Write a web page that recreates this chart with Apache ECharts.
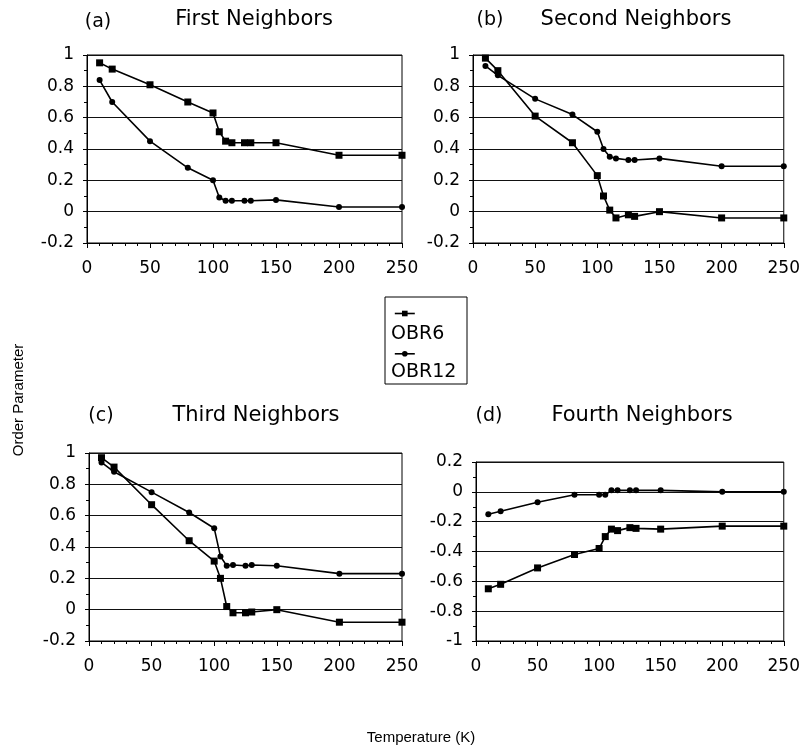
<!DOCTYPE html>
<html>
<head>
<meta charset="utf-8">
<script src="https://cdn.jsdelivr.net/npm/echarts@6/dist/echarts.min.js"></script>
<style>
  html, body { margin: 0; padding: 0; background: #fff; }
  #chart { width: 803px; height: 751px; }
</style>
</head>
<body>
<div id="chart"></div>
<script>
// temperatures (K) shared by every panel
const temps = [10, 20, 50, 80, 100, 105, 110, 115, 125, 130, 150, 200, 250];

// (a) first neighbors
const firstObr6 = [0.95, 0.91, 0.81, 0.70, 0.63, 0.51, 0.45, 0.44, 0.44, 0.44, 0.44, 0.36, 0.36];
const firstObr12 = [0.84, 0.70, 0.45, 0.28, 0.20, 0.09, 0.07, 0.07, 0.07, 0.07, 0.075, 0.03, 0.03];
// (b) second neighbors
const secondObr6 = [0.98, 0.90, 0.61, 0.44, 0.23, 0.10, 0.01, -0.04, -0.02, -0.03, 0.00, -0.04, -0.04];
const secondObr12 = [0.93, 0.87, 0.72, 0.62, 0.51, 0.40, 0.35, 0.34, 0.33, 0.33, 0.34, 0.29, 0.29];
// (c) third neighbors
const thirdObr6 = [0.97, 0.91, 0.67, 0.44, 0.31, 0.20, 0.02, -0.02, -0.02, -0.015, 0.00, -0.08, -0.08];
const thirdObr12 = [0.94, 0.88, 0.75, 0.62, 0.52, 0.34, 0.28, 0.285, 0.28, 0.285, 0.28, 0.23, 0.23];
// (d) fourth neighbors
const fourthObr6 = [-0.65, -0.62, -0.51, -0.42, -0.38, -0.30, -0.25, -0.26, -0.24, -0.245, -0.25, -0.23, -0.23];
const fourthObr12 = [-0.15, -0.13, -0.07, -0.02, -0.02, -0.02, 0.01, 0.01, 0.01, 0.01, 0.01, 0.00, 0.00];

const seriesNames = ["OBR6", "OBR12"];
const panelLetters = ["(a)", "(b)", "(c)", "(d)"];
const panelTitles = ["First Neighbors", "Second Neighbors", "Third Neighbors", "Fourth Neighbors"];
const yRanges = [[-0.2, 1], [-0.2, 1], [-0.2, 1], [-1, 0.2]];

const panelData = [
  [firstObr6, firstObr12],
  [secondObr6, secondObr12],
  [thirdObr6, thirdObr12],
  [fourthObr6, fourthObr12],
];

const grids = [
  { left: 87, top: 55, width: 315, height: 188 },
  { left: 473, top: 55, width: 315, height: 188 },
  { left: 89, top: 453, width: 313, height: 188 },
  { left: 476, top: 462, width: 312, height: 179 },
];

const FONT = "DejaVu Sans, Verdana, sans-serif";
const FONT2 = "Liberation Sans, Arial, sans-serif";

const chart = echarts.init(document.getElementById("chart"));

const xAxes = grids.map((g, i) => ({
  type: "value",
  gridIndex: i,
  min: 0,
  max: 250,
  interval: 50,
  axisLine: { show: true, onZero: false, lineStyle: { color: "#000", width: 1 } },
  axisTick: { show: true, length: 5, lineStyle: { color: "#000" } },
  minorTick: { show: true, splitNumber: 5, length: 3, lineStyle: { color: "#000" } },
  splitLine: { show: false },
  axisLabel: { color: "#000", fontSize: 17, fontFamily: FONT, margin: 17 },
}));

const yAxes = grids.map((g, i) => ({
  type: "value",
  gridIndex: i,
  min: yRanges[i][0],
  max: yRanges[i][1],
  interval: 0.2,
  axisLine: { show: true, onZero: false, lineStyle: { color: "#000", width: 1 } },
  axisTick: { show: true, length: 4, lineStyle: { color: "#000" } },
  minorTick: { show: true, splitNumber: 2, length: 3, lineStyle: { color: "#000" } },
  splitLine: { show: true, lineStyle: { color: "#111", width: 1 } },
  axisLabel: { color: "#000", fontSize: 17, fontFamily: FONT, margin: 13 },
}));

const series = [];
panelData.forEach((pair, i) => {
  pair.forEach((vals, k) => {
    series.push({
      name: seriesNames[k],
      type: "line",
      xAxisIndex: i,
      yAxisIndex: i,
      data: temps.map((t, j) => [t, vals[j]]),
      symbol: k === 0 ? "rect" : "circle",
      symbolSize: k === 0 ? 7 : 6,
      showAllSymbol: true,
      lineStyle: { color: "#000", width: 1.6 },
      itemStyle: { color: "#000" },
      emphasis: { disabled: true },
      animation: false,
    });
  });
});

// panel headings
const letterPos = [[98, 22], [490, 20], [101, 416], [489, 416]];
const namePos = [[254, 20], [636, 20], [256, 416], [642, 416]];
const headings = [];
grids.forEach((g, i) => {
  headings.push({
    type: "text",
    x: letterPos[i][0],
    y: letterPos[i][1],
    style: { text: panelLetters[i], fontSize: 19, fontFamily: FONT, fill: "#000", align: "center", verticalAlign: "middle" },
  });
  headings.push({
    type: "text",
    x: namePos[i][0],
    y: namePos[i][1],
    style: { text: panelTitles[i], fontSize: 21, fontFamily: FONT, fill: "#000", align: "center", verticalAlign: "middle" },
  });
});

const option = {
  backgroundColor: "#fff",
  animation: false,
  grid: grids.map((g) => ({ ...g, show: true, borderColor: "#000", borderWidth: 1, backgroundColor: "transparent" })),
  xAxis: xAxes,
  yAxis: yAxes,
  legend: {
    data: seriesNames,
    orient: "vertical",
    left: 389,
    top: 305,
    itemWidth: 20,
    itemHeight: 7,
    itemGap: 34,
    formatter: () => "",
    textStyle: { fontSize: 6 },
    selectedMode: false,
    itemStyle: { color: "#000" },
    lineStyle: { color: "#000", width: 1.6 },
  },
  graphic: headings.concat([
    {
      type: "rect",
      shape: { x: 385, y: 297, width: 82, height: 87 },
      style: { fill: "none", stroke: "#000", lineWidth: 1 },
      z: -1,
    },
    {
      type: "text",
      x: 391,
      y: 334,
      style: { text: "OBR6", fontSize: 19, fontFamily: FONT, fill: "#000", verticalAlign: "middle" },
    },
    {
      type: "text",
      x: 391,
      y: 372,
      style: { text: "OBR12", fontSize: 19, fontFamily: FONT, fill: "#000", verticalAlign: "middle" },
    },
    {
      type: "text",
      x: 19,
      y: 400,
      rotation: Math.PI / 2,
      style: { text: "Order Parameter", fontSize: 15, fontFamily: FONT2, fill: "#000", align: "center", verticalAlign: "middle" },
    },
    {
      type: "text",
      x: 421,
      y: 738,
      style: { text: "Temperature (K)", fontSize: 15, fontFamily: FONT2, fill: "#000", align: "center", verticalAlign: "middle" },
    },
  ]),
  series: series,
};

chart.setOption(option);
</script>
</body>
</html>
